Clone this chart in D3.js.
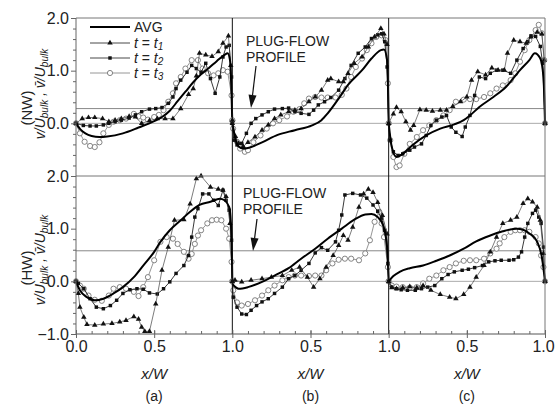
<!DOCTYPE html>
<html>
<head>
<meta charset="utf-8">
<script src="https://cdn.jsdelivr.net/npm/d3@7"></script>
<style>
body { margin: 0; background: #fff; }
svg text { font-family: "Liberation Sans", Arial, sans-serif; fill: #222; }
</style>
</head>
<body>
<div id="chart"></div>
<script>
// ---- data: [x/W, v/Ubulk] ----
// top row (NW)
const nwAvgA = [[0,0],[0.03,-0.12],[0.06,-0.19],[0.1,-0.24],[0.15,-0.26],[0.2,-0.25],[0.3,-0.19],[0.4,-0.08],[0.5,0.04],[0.55,0.12],[0.6,0.24],[0.65,0.42],[0.7,0.6],[0.75,0.78],[0.8,0.93],[0.85,1.05],[0.9,1.18],[0.95,1.3],[0.97,1.33],[0.985,1.2],[1,0]];
const nwT1A = [[0,0],[0.04,0.09],[0.08,0.11],[0.12,0.11],[0.17,0.09],[0.21,0.03],[0.25,0.06],[0.29,0.09],[0.34,0.13],[0.38,0.12],[0.42,0.0],[0.47,0.05],[0.52,0.09],[0.57,0.09],[0.62,0.09],[0.67,0.28],[0.72,0.55],[0.75,0.66],[0.77,0.9],[0.79,1.33],[0.83,1.3],[0.87,1.27],[0.91,1.36],[0.94,1.52],[0.975,1.66],[0.99,1.1],[1,0]];
const nwT2A = [[0,0],[0.047,-0.04],[0.09,-0.05],[0.13,-0.05],[0.175,-0.03],[0.21,0],[0.25,0.03],[0.29,0.06],[0.34,0.1],[0.38,0.16],[0.42,0.22],[0.47,0.27],[0.51,0.28],[0.55,0.3],[0.59,0.38],[0.62,0.5],[0.64,0.66],[0.67,0.82],[0.71,0.97],[0.74,1.1],[0.77,1.04],[0.8,0.97],[0.83,1.14],[0.86,0.85],[0.89,0.57],[0.92,0.88],[0.94,1.26],[0.96,1.45],[0.98,1.48],[0.995,0.88],[1,0]];
const nwT3A = [[0,0],[0.025,-0.19],[0.055,-0.35],[0.09,-0.43],[0.12,-0.45],[0.15,-0.36],[0.175,-0.19],[0.21,-0.03],[0.24,0.03],[0.28,0.06],[0.32,0.09],[0.37,0.18],[0.4,0.13],[0.43,0.11],[0.46,0.07],[0.5,0.12],[0.53,0.16],[0.56,0.25],[0.59,0.41],[0.62,0.57],[0.64,0.76],[0.67,0.88],[0.7,1.04],[0.74,1.2],[0.78,1.2],[0.81,1.04],[0.845,0.95],[0.88,0.91],[0.91,0.95],[0.94,1.01],[0.97,0.98],[0.995,0.53],[1,0.05]];

const nwAvgB = [[0,0],[0.02,-0.3],[0.04,-0.44],[0.07,-0.48],[0.1,-0.47],[0.19,-0.36],[0.29,-0.22],[0.4,-0.13],[0.51,-0.04],[0.57,0.06],[0.61,0.19],[0.68,0.47],[0.74,0.73],[0.83,1.01],[0.89,1.23],[0.95,1.39],[0.97,1.4],[0.99,1.2],[1,0]];
const nwT1B = [[0,0.06],[0.02,-0.25],[0.04,-0.38],[0.07,-0.44],[0.1,-0.36],[0.145,-0.26],[0.19,-0.13],[0.23,-0.03],[0.27,0.09],[0.31,0.16],[0.36,0.22],[0.4,0.25],[0.44,0.28],[0.49,0.41],[0.53,0.5],[0.57,0.63],[0.61,0.82],[0.63,0.85],[0.68,0.79],[0.71,0.79],[0.74,0.95],[0.78,1.14],[0.83,1.26],[0.87,1.45],[0.91,1.64],[0.95,1.8],[0.97,1.7],[0.99,1.5],[1,0]];
const nwT2B = [[0,0],[0.01,-0.32],[0.03,-0.41],[0.06,-0.38],[0.09,-0.19],[0.12,0],[0.15,0.09],[0.19,0.16],[0.23,0.22],[0.27,0.27],[0.32,0.28],[0.36,0.29],[0.4,0.22],[0.44,0.19],[0.49,0.17],[0.52,0.25],[0.55,0.35],[0.59,0.41],[0.63,0.49],[0.68,0.63],[0.72,0.85],[0.76,1.1],[0.805,1.33],[0.85,1.45],[0.89,1.61],[0.93,1.68],[0.955,1.7],[0.975,1.55],[0.99,1.07],[1,0]];
const nwT3B = [[0,0.06],[0.005,-0.1],[0.03,-0.35],[0.05,-0.48],[0.08,-0.54],[0.1,-0.51],[0.135,-0.36],[0.18,-0.23],[0.22,-0.1],[0.26,0],[0.3,0.06],[0.35,0.13],[0.39,0.22],[0.43,0.27],[0.46,0.38],[0.49,0.47],[0.53,0.5],[0.57,0.49],[0.61,0.49],[0.66,0.49],[0.7,0.54],[0.73,0.66],[0.76,0.88],[0.79,1.07],[0.83,1.23],[0.86,1.39],[0.89,1.52],[0.92,1.64],[0.955,1.67],[0.98,1.58],[0.995,0.76],[1,0]];

const nwAvgC = [[0,0],[0.02,-0.45],[0.05,-0.64],[0.09,-0.58],[0.15,-0.42],[0.24,-0.23],[0.33,-0.1],[0.42,-0.02],[0.48,0.06],[0.52,0.15],[0.58,0.31],[0.67,0.5],[0.75,0.69],[0.84,1.01],[0.9,1.2],[0.935,1.33],[0.97,1.23],[0.99,0.88],[1,0]];
const nwT1C = [[0,0],[0.03,0.18],[0.05,0.3],[0.08,0.22],[0.11,0.03],[0.14,-0.13],[0.16,-0.04],[0.2,0.26],[0.24,0.25],[0.28,0.23],[0.33,0.25],[0.37,0.25],[0.41,0.32],[0.46,0.41],[0.5,0.5],[0.53,0.82],[0.57,0.98],[0.62,0.92],[0.66,1.05],[0.7,1.01],[0.74,1.01],[0.76,1.33],[0.8,1.58],[0.84,1.55],[0.88,1.52],[0.91,1.64],[0.95,1.73],[0.98,1.7],[0.995,1.2],[1,0]];
const nwT2C = [[0,0],[0.01,-0.32],[0.03,-0.54],[0.06,-0.61],[0.09,-0.58],[0.135,-0.51],[0.165,-0.45],[0.21,-0.39],[0.24,-0.23],[0.27,-0.04],[0.305,0.06],[0.34,0.12],[0.37,0.15],[0.4,-0.07],[0.43,-0.17],[0.47,-0.25],[0.49,-0.07],[0.52,0.15],[0.55,0.53],[0.58,0.88],[0.62,0.85],[0.65,0.95],[0.69,1.01],[0.73,1.01],[0.78,0.95],[0.82,1.2],[0.86,1.42],[0.89,1.55],[0.91,1.66],[0.94,1.65],[0.97,1.46],[0.985,1.14],[1,0]];
const nwT3C = [[0,0],[0.01,-0.32],[0.03,-0.64],[0.05,-0.83],[0.07,-0.8],[0.1,-0.58],[0.135,-0.39],[0.18,-0.26],[0.22,-0.13],[0.26,-0.04],[0.305,0.06],[0.35,0.15],[0.39,0.25],[0.43,0.41],[0.48,0.45],[0.52,0.46],[0.56,0.46],[0.61,0.5],[0.65,0.57],[0.69,0.66],[0.73,0.72],[0.78,0.82],[0.81,0.95],[0.84,1.17],[0.87,1.39],[0.9,1.58],[0.94,1.77],[0.96,1.87],[0.98,1.71],[0.995,1.2],[1,0]];

// bottom row (HW)
const hwAvgA = [[0,0],[0.025,-0.17],[0.07,-0.3],[0.12,-0.36],[0.175,-0.33],[0.24,-0.23],[0.3,-0.11],[0.37,0.08],[0.43,0.3],[0.5,0.56],[0.54,0.75],[0.6,0.97],[0.67,1.16],[0.73,1.32],[0.79,1.45],[0.86,1.51],[0.92,1.57],[0.95,1.54],[0.98,1.41],[0.995,0.84],[1,0]];
const hwT1A = [[0,0],[0.015,-0.23],[0.025,-0.49],[0.05,-0.68],[0.07,-0.82],[0.12,-0.83],[0.175,-0.81],[0.23,-0.8],[0.28,-0.77],[0.32,-0.74],[0.37,-0.67],[0.4,-0.72],[0.42,-0.87],[0.44,-0.95],[0.47,-0.95],[0.51,-0.43],[0.55,0.21],[0.59,0.65],[0.63,1.16],[0.69,1.17],[0.73,1.47],[0.77,1.95],[0.8,2.0],[0.86,1.79],[0.91,1.75],[0.94,1.73],[0.96,1.61],[0.985,1.1],[1,0]];
const hwT2A = [[0,0],[0.015,-0.04],[0.05,-0.14],[0.09,-0.33],[0.13,-0.49],[0.175,-0.52],[0.22,-0.46],[0.26,-0.36],[0.3,-0.23],[0.345,-0.16],[0.39,-0.14],[0.43,-0.15],[0.47,-0.22],[0.52,-0.24],[0.56,-0.14],[0.6,-0.01],[0.64,0.15],[0.69,0.3],[0.72,0.49],[0.74,0.84],[0.76,1.22],[0.78,1.38],[0.81,1.66],[0.85,1.66],[0.88,1.54],[0.91,1.44],[0.94,1.73],[0.96,1.54],[0.98,1.35],[0.995,0.78],[1,0]];
const hwT3A = [[0,0],[0.025,-0.08],[0.05,-0.14],[0.08,-0.27],[0.12,-0.35],[0.165,-0.37],[0.21,-0.27],[0.24,-0.14],[0.28,-0.11],[0.32,-0.14],[0.37,-0.2],[0.4,-0.28],[0.43,-0.11],[0.46,0.08],[0.5,0.4],[0.54,0.75],[0.58,0.84],[0.62,0.81],[0.65,0.71],[0.69,0.56],[0.72,0.43],[0.74,0.52],[0.76,0.71],[0.78,0.87],[0.8,0.97],[0.84,1.1],[0.87,1.16],[0.9,1.17],[0.93,1.16],[0.96,1.0],[0.98,0.81],[0.995,0.37],[1,0]];

const hwAvgB = [[0,-0.05],[0.04,-0.14],[0.1,-0.11],[0.19,-0.01],[0.27,0.11],[0.36,0.25],[0.44,0.43],[0.53,0.62],[0.61,0.81],[0.7,1.0],[0.78,1.17],[0.85,1.27],[0.89,1.28],[0.93,1.22],[0.965,1.06],[0.99,0.65],[1,0]];
const hwT1B = [[0,0],[0.017,0.02],[0.06,-0.01],[0.12,0.02],[0.19,0.05],[0.25,0.08],[0.32,0.11],[0.38,0.21],[0.43,0.27],[0.48,0.08],[0.52,-0.11],[0.56,0.05],[0.6,0.27],[0.645,0.49],[0.68,0.68],[0.71,0.87],[0.74,0.78],[0.77,1.03],[0.81,1.41],[0.84,1.66],[0.87,1.75],[0.9,1.69],[0.93,1.5],[0.96,1.25],[0.99,0.9],[1,0]];
const hwT2B = [[0,0],[0.006,-0.3],[0.03,-0.49],[0.06,-0.62],[0.09,-0.63],[0.12,-0.55],[0.155,-0.46],[0.19,-0.39],[0.23,-0.33],[0.27,-0.23],[0.32,-0.11],[0.36,0.05],[0.4,0.11],[0.44,0.21],[0.49,0.34],[0.53,0.54],[0.57,0.64],[0.61,0.59],[0.66,0.75],[0.68,0.97],[0.7,1.26],[0.72,1.64],[0.77,1.67],[0.82,1.64],[0.86,1.58],[0.9,1.45],[0.93,1.33],[0.955,1.2],[0.975,0.97],[0.995,0.34],[1,0]];
const hwT3B = [[0,0],[0.006,-0.17],[0.03,-0.4],[0.06,-0.46],[0.1,-0.43],[0.145,-0.36],[0.19,-0.27],[0.23,-0.17],[0.27,-0.08],[0.32,0.02],[0.36,0.08],[0.4,0.11],[0.44,0.11],[0.49,0.1],[0.53,0.11],[0.57,0.11],[0.6,0.21],[0.64,0.34],[0.68,0.41],[0.72,0.43],[0.76,0.43],[0.81,0.4],[0.85,0.53],[0.88,0.78],[0.91,1.13],[0.94,1.32],[0.955,1.1],[0.97,0.84],[0.995,0.27],[1,0]];

const hwAvgC = [[0,0],[0.03,0.1],[0.07,0.18],[0.135,0.25],[0.22,0.3],[0.305,0.39],[0.39,0.49],[0.48,0.62],[0.56,0.76],[0.65,0.87],[0.73,0.95],[0.82,1.0],[0.86,0.98],[0.9,0.91],[0.95,0.75],[0.98,0.46],[1,0]];
const hwT1C = [[0,0],[0.02,-0.12],[0.05,-0.14],[0.09,-0.12],[0.135,-0.1],[0.18,-0.12],[0.22,-0.08],[0.27,-0.17],[0.33,-0.25],[0.39,-0.3],[0.43,-0.33],[0.48,-0.25],[0.52,-0.11],[0.56,0.08],[0.61,0.3],[0.65,0.56],[0.69,0.84],[0.73,1.1],[0.78,1.16],[0.82,1.22],[0.86,1.48],[0.89,1.57],[0.92,1.51],[0.95,1.41],[0.97,1.16],[0.99,0.53],[1,0]];
const hwT2C = [[0,0],[0.02,-0.11],[0.05,-0.14],[0.08,-0.16],[0.12,-0.17],[0.17,-0.17],[0.21,-0.14],[0.25,-0.11],[0.295,-0.08],[0.34,0.05],[0.38,0.13],[0.42,0.18],[0.47,0.21],[0.51,0.23],[0.55,0.26],[0.6,0.3],[0.64,0.37],[0.68,0.39],[0.72,0.4],[0.77,0.4],[0.8,0.41],[0.83,0.46],[0.85,0.56],[0.87,0.84],[0.89,1.1],[0.92,1.29],[0.94,1.35],[0.96,1.22],[0.975,1.1],[0.99,0.65],[1,0]];
const hwT3C = [[0,0],[0.02,-0.08],[0.05,-0.1],[0.09,-0.11],[0.135,-0.12],[0.18,-0.11],[0.22,-0.04],[0.26,0.05],[0.305,0.11],[0.35,0.21],[0.39,0.27],[0.43,0.34],[0.48,0.39],[0.52,0.4],[0.56,0.4],[0.61,0.43],[0.65,0.53],[0.69,0.62],[0.71,0.72],[0.74,0.84],[0.78,0.94],[0.81,0.97],[0.84,0.97],[0.87,0.97],[0.9,0.94],[0.94,0.84],[0.96,0.72],[0.975,0.49],[0.99,0.27],[1,0]];

const plugLevels = [0.28, 0.58];      // plug-flow profile, NW / HW
const rowNames = ['(NW)', '(HW)'];
const panelLetters = ['(a)', '(b)', '(c)'];
const yTickMajor = [[0, 1, 2], [-1, 0, 1, 2]];

const rowSeries = [
    [[nwAvgA, nwT1A, nwT2A, nwT3A], [nwAvgB, nwT1B, nwT2B, nwT3B], [nwAvgC, nwT1C, nwT2C, nwT3C]],
    [[hwAvgA, hwT1A, hwT2A, hwT3A], [hwAvgB, hwT1B, hwT2B, hwT3B], [hwAvgC, hwT1C, hwT2C, hwT3C]]
];

// ---- layout ----
const width = 555, height = 405;
const left = 76, right = 545;
const panelW = (right - left) / 3;
const rowTop = [18, 176], rowBottom = [176, 334];

const svg = d3.select('#chart').append('svg')
    .attr('width', width)
    .attr('height', height);

const xScales = [0, 1, 2].map(i => d3.scaleLinear().domain([0, 1]).range([left + i * panelW, left + (i + 1) * panelW]));
const yScales = [0, 1].map(r => d3.scaleLinear().domain([-1, 2]).range([rowBottom[r], rowTop[r]]));

const triangle = d3.symbol().type(d3.symbolTriangle).size(13);
const square = d3.symbol().type(d3.symbolSquare).size(12);

// reference lines (zero + plug flow)
yScales.forEach((y, r) => {
    svg.append('line')
        .attr('x1', left).attr('x2', right)
        .attr('y1', y(0)).attr('y2', y(0))
        .attr('stroke', '#aaa').attr('stroke-width', 1);
    svg.append('line')
        .attr('x1', left).attr('x2', right)
        .attr('y1', y(plugLevels[r])).attr('y2', y(plugLevels[r]))
        .attr('stroke', '#888').attr('stroke-width', 1);
});

// data
rowSeries.forEach((panels, r) => {
    const y = yScales[r];
    panels.forEach((ser, p) => {
        const x = xScales[p];
        const g = svg.append('g');
        const straight = d3.line().x(d => x(d[0])).y(d => y(d[1]));
        const smooth = d3.line().x(d => x(d[0])).y(d => y(d[1])).curve(d3.curveMonotoneX);

        // t3: grey open circles
        g.append('path').attr('d', straight(ser[3]))
            .attr('fill', 'none').attr('stroke', '#8a8a8a').attr('stroke-width', 0.9);
        g.selectAll('.c3').data(ser[3]).enter().append('circle')
            .attr('cx', d => x(d[0])).attr('cy', d => y(d[1])).attr('r', 2.6)
            .attr('fill', 'white').attr('stroke', '#777').attr('stroke-width', 0.9);

        // t2: black squares
        g.append('path').attr('d', straight(ser[2]))
            .attr('fill', 'none').attr('stroke', '#222').attr('stroke-width', 0.9);
        g.selectAll('.s2').data(ser[2]).enter().append('path')
            .attr('d', square)
            .attr('transform', d => `translate(${x(d[0])},${y(d[1])})`)
            .attr('fill', '#111');

        // t1: thin line, triangles
        g.append('path').attr('d', straight(ser[1]))
            .attr('fill', 'none').attr('stroke', '#444').attr('stroke-width', 0.7);
        g.selectAll('.t1').data(ser[1]).enter().append('path')
            .attr('d', triangle)
            .attr('transform', d => `translate(${x(d[0])},${y(d[1])})`)
            .attr('fill', '#111');

        // AVG
        g.append('path').attr('d', smooth(ser[0]))
            .attr('fill', 'none').attr('stroke', '#000').attr('stroke-width', 2);
    });
});

// frame
const frame = svg.append('g');
[18, 176].forEach(yy => frame.append('line')
    .attr('x1', left).attr('x2', right).attr('y1', yy).attr('y2', yy)
    .attr('stroke', '#777').attr('stroke-width', 1));
frame.append('line').attr('x1', left).attr('x2', right).attr('y1', 334).attr('y2', 334)
    .attr('stroke', '#555').attr('stroke-width', 1);
frame.append('line').attr('x1', left).attr('x2', left).attr('y1', 18).attr('y2', 334)
    .attr('stroke', '#666').attr('stroke-width', 1);
frame.append('line').attr('x1', right).attr('x2', right).attr('y1', 18).attr('y2', 334)
    .attr('stroke', '#777').attr('stroke-width', 1);
[1, 2].forEach(i => frame.append('line')
    .attr('x1', left + i * panelW).attr('x2', left + i * panelW).attr('y1', 18).attr('y2', 334)
    .attr('stroke', '#111').attr('stroke-width', 1));

// y axes
yScales.forEach((y, r) => {
    const minor = d3.range(-0.8, 2.0, 0.2).filter(v => Math.abs(v - Math.round(v)) > 0.01);
    const gMinor = svg.append('g').attr('transform', `translate(${left},0)`)
        .call(d3.axisLeft(y).tickValues(minor).tickSize(3).tickFormat(''));
    gMinor.select('.domain').remove();
    gMinor.selectAll('line').attr('stroke', '#666');
    const gMajor = svg.append('g').attr('transform', `translate(${left},0)`)
        .call(d3.axisLeft(y).tickValues(yTickMajor[r]).tickSize(5).tickPadding(2).tickFormat(d3.format('.1f')));
    gMajor.select('.domain').remove();
    gMajor.selectAll('line').attr('stroke', '#666');
    gMajor.selectAll('text').attr('font-size', 16).attr('fill', '#222')
        .style('font-family', '"Liberation Sans", Arial, sans-serif');
});

// x axes
xScales.forEach((x, i) => {
    const gMinor = svg.append('g').attr('transform', 'translate(0,334)')
        .call(d3.axisBottom(x).tickValues(d3.range(0.1, 1, 0.1)).tickSize(-3).tickFormat(''));
    gMinor.select('.domain').remove();
    gMinor.selectAll('line').attr('stroke', '#666');
    const ticks = i === 0 ? [0, 0.5, 1] : [0.5, 1];
    const gMajor = svg.append('g').attr('transform', 'translate(0,334)')
        .call(d3.axisBottom(x).tickValues(ticks).tickSize(4).tickPadding(3).tickFormat(d3.format('.1f')));
    gMajor.select('.domain').remove();
    gMajor.selectAll('line').attr('y1', -4).attr('stroke', '#666');
    gMajor.selectAll('text').attr('font-size', 16).attr('fill', '#222')
        .style('font-family', '"Liberation Sans", Arial, sans-serif');
    if (i === 2) gMajor.selectAll('text').filter(d => d === 1).attr('dx', -2);

    const cx = (x.range()[0] + x.range()[1]) / 2;
    svg.append('text').attr('x', cx).attr('y', 379)
        .attr('text-anchor', 'middle').attr('font-size', 15).attr('font-style', 'italic')
        .text('x/W');
    svg.append('text').attr('x', cx).attr('y', 401)
        .attr('text-anchor', 'middle').attr('font-size', 14)
        .text(panelLetters[i]);
});

// y labels
const yLabelPos = [[108, 94], [268, 260]];
rowNames.forEach((name, r) => {
    svg.append('text')
        .attr('transform', `translate(32,${yLabelPos[r][0]}) rotate(-90)`)
        .attr('text-anchor', 'middle').attr('font-size', 15)
        .text(name);
    const t = svg.append('text')
        .attr('transform', `translate(45,${yLabelPos[r][1]}) rotate(-90)`)
        .attr('text-anchor', 'middle').attr('font-size', 14).attr('font-style', 'italic');
    t.append('tspan').text('v/U');
    t.append('tspan').attr('font-size', 10).attr('dy', 3).text('bulk');
    t.append('tspan').attr('dy', -3).text(' , v\u0304/U');
    t.append('tspan').attr('font-size', 10).attr('dy', 3).text('bulk');
});

// legend
const legendRows = [27, 43, 58, 73];
const lg = svg.append('g');
legendRows.forEach((ly, k) => {
    lg.append('line').attr('x1', 90).attr('x2', 130).attr('y1', ly).attr('y2', ly)
        .attr('stroke', k === 0 ? '#000' : (k === 3 ? '#8a8a8a' : '#333'))
        .attr('stroke-width', k === 0 ? 2 : 0.9);
    if (k === 1) lg.append('path').attr('d', triangle).attr('transform', `translate(110,${ly})`).attr('fill', '#111');
    if (k === 2) lg.append('path').attr('d', square).attr('transform', `translate(110,${ly})`).attr('fill', '#111');
    if (k === 3) lg.append('circle').attr('cx', 110).attr('cy', ly).attr('r', 2.6)
        .attr('fill', 'white').attr('stroke', '#777').attr('stroke-width', 0.9);
    const t = lg.append('text').attr('x', 134).attr('y', ly + 5).attr('font-size', 14);
    if (k === 0) {
        t.text('AVG');
    } else {
        t.append('tspan').attr('font-style', 'italic').text('t');
        t.append('tspan').text(' = ');
        t.append('tspan').attr('font-style', 'italic').text('t');
        t.append('tspan').attr('font-style', 'italic').attr('font-size', 10).attr('dy', 2).text(String(k));
    }
});

// plug-flow annotations
const notes = [{x: 246, y1: 46, y2: 62, ax1: 256, ay1: 66, ax2: 251, ay2: 108},
               {x: 243, y1: 198, y2: 214, ax1: 257, ay1: 219, ax2: 253, ay2: 251}];
notes.forEach(n => {
    svg.append('text').attr('x', n.x).attr('y', n.y1).attr('font-size', 14).text('PLUG-FLOW');
    svg.append('text').attr('x', n.x).attr('y', n.y2).attr('font-size', 14).text('PROFILE');
    const ang = Math.atan2(n.ay2 - n.ay1, n.ax2 - n.ax1);
    const hl = 13, hw = 4;
    const bx = n.ax2 - hl * Math.cos(ang), by = n.ay2 - hl * Math.sin(ang);
    svg.append('line').attr('x1', n.ax1).attr('y1', n.ay1).attr('x2', bx).attr('y2', by)
        .attr('stroke', '#111').attr('stroke-width', 1.2);
    svg.append('path')
        .attr('d', `M${n.ax2},${n.ay2}L${bx + hw * Math.sin(ang)},${by - hw * Math.cos(ang)}L${bx - hw * Math.sin(ang)},${by + hw * Math.cos(ang)}Z`)
        .attr('fill', '#111');
});
</script>
</body>
</html>
